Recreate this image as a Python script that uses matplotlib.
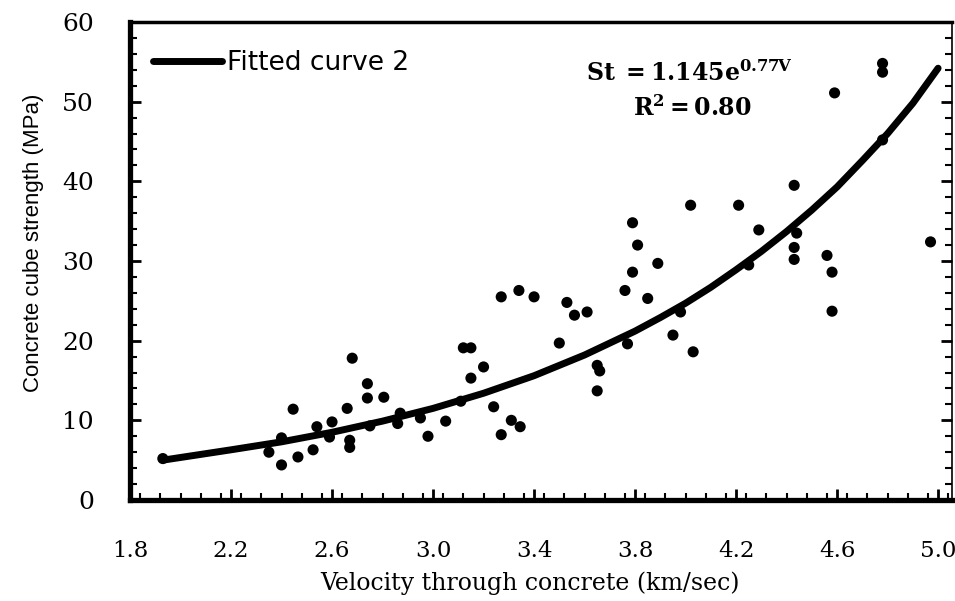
import matplotlib
matplotlib.use("Agg")
import matplotlib.pyplot as plt
from matplotlib.ticker import MultipleLocator, FixedLocator

# Data
velocity = [1.93, 2.35, 2.40, 2.40, 2.446, 2.465, 2.525, 2.54, 2.59, 2.60,
            2.66, 2.67, 2.67, 2.68, 2.74, 2.74, 2.75, 2.805, 2.86, 2.87,
            2.95, 2.98, 3.05, 3.11, 3.12, 3.15, 3.15, 3.20, 3.24, 3.27,
            3.27, 3.31, 3.345, 3.34, 3.40, 3.50, 3.53, 3.56, 3.61, 3.65,
            3.66, 3.65, 3.76, 3.77, 3.79, 3.79, 3.81, 3.85, 3.89, 3.95,
            3.98, 4.02, 4.03, 4.21, 4.25, 4.29, 4.43, 4.44, 4.43, 4.43,
            4.56, 4.58, 4.58, 4.59, 4.78, 4.78, 4.78, 4.97]
strength = [5.2, 6.0, 7.8, 4.4, 11.4, 5.4, 6.3, 9.2, 7.9, 9.8,
            11.5, 7.5, 6.6, 17.8, 14.6, 12.8, 9.3, 12.9, 9.6, 10.9,
            10.3, 8.0, 9.9, 12.4, 19.1, 19.1, 15.3, 16.7, 11.7, 8.2,
            25.5, 10.0, 9.2, 26.3, 25.5, 19.7, 24.8, 23.2, 23.6, 16.9,
            16.2, 13.7, 26.3, 19.6, 28.6, 34.8, 32.0, 25.3, 29.7, 20.7,
            23.6, 37.0, 18.6, 37.0, 29.5, 33.9, 39.5, 33.5, 31.7, 30.2,
            30.7, 28.6, 23.7, 51.1, 45.2, 54.8, 53.7, 32.4]

curve_v = [1.93, 2.2, 2.4, 2.6, 2.8, 3.0, 3.2, 3.4, 3.6, 3.8, 3.9, 4.0, 4.1,
           4.2, 4.3, 4.4, 4.5, 4.6, 4.7, 4.8, 4.9, 5.0]
curve_s = [5.0, 6.3, 7.3, 8.5, 9.9, 11.5, 13.4, 15.6, 18.2, 21.2, 22.9, 24.7,
           26.7, 28.9, 31.2, 33.7, 36.4, 39.3, 42.6, 46.0, 49.8, 54.2]

x_ticks = [1.8, 2.2, 2.6, 3.0, 3.4, 3.8, 4.2, 4.6, 5.0]
x_ticklabels = ["1.8", "2.2", "2.6", "3.0", "3.4", "3.8", "4.2", "4.6", "5.0"]
y_ticks = [0, 10, 20, 30, 40, 50, 60]

plt.rcParams['mathtext.fontset'] = 'dejavuserif'

fig = plt.figure(figsize=(9.55, 6.01), dpi=100)
ax = fig.add_axes([130/955, 1-500/601, 822/955, 478/601])

ax.scatter(velocity, strength, s=64, color='black', edgecolors='none', zorder=3)
ax.plot(curve_v, curve_s, color='black', lw=5, solid_capstyle='round',
        solid_joinstyle='round', label='Fitted curve 2', zorder=4)

ax.set_xlim(1.8, 5.055)
ax.set_ylim(0, 60)
ax.xaxis.set_major_locator(FixedLocator(x_ticks))
ax.set_xticklabels(x_ticklabels)
ax.xaxis.set_minor_locator(MultipleLocator(0.08))
ax.yaxis.set_major_locator(FixedLocator(y_ticks))
ax.yaxis.set_minor_locator(MultipleLocator(2))

for lab in ax.get_xticklabels():
    lab.set_family('DejaVu Serif')
    lab.set_fontsize(16.5)
for lab in ax.get_yticklabels():
    lab.set_family('DejaVu Serif')
    lab.set_fontsize(18)

ax.tick_params(axis='both', which='major', direction='in', length=8, width=2,
               pad=26, colors='black')
ax.tick_params(axis='both', which='minor', direction='in', length=5, width=1.5)
ax.tick_params(axis='x', which='major', pad=29)
ax.tick_params(axis='y', which='both', right=True)

ax.spines['left'].set_linewidth(3.8)
ax.spines['bottom'].set_linewidth(3.8)
ax.spines['top'].set_linewidth(2.5)
ax.spines['right'].set_linewidth(1.2)

ax.text(0.487, -0.174, 'Velocity through concrete (km/sec)', transform=ax.transAxes,
        ha='center', va='center', fontsize=17, family='DejaVu Serif')
ax.text(-0.118, 0.538, 'Concrete cube strength (MPa)', transform=ax.transAxes,
        ha='center', va='center', rotation=90, fontsize=16,
        family=['Liberation Sans Narrow', 'Liberation Sans', 'DejaVu Sans'])

ax.legend(loc='center left', bbox_to_anchor=(0.028, 0.914), frameon=False,
          handlelength=2.6, handletextpad=0.2, borderpad=0, borderaxespad=0,
          prop={'family': 'DejaVu Sans', 'size': 19})

ax.text(0.681, 0.893, r'$\mathbf{St\ =1.145e}^{\mathbf{0.77V}}$',
        transform=ax.transAxes, ha='center', va='center', fontsize=17)
ax.text(0.684, 0.82, r'$\mathbf{R^2 = 0.80}$', transform=ax.transAxes,
        ha='center', va='center', fontsize=17)

fig.savefig('out.png', dpi=100)
